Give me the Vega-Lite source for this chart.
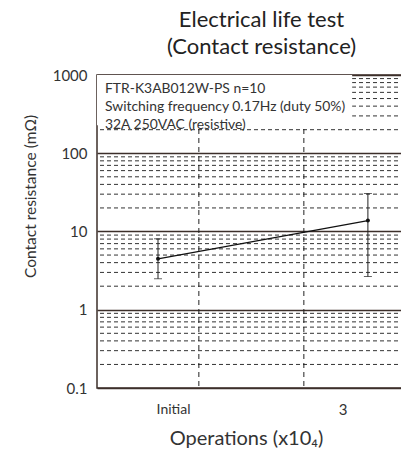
{
  "$schema": "https://vega.github.io/schema/vega-lite/v6.json",
  "width": 315,
  "height": 313,
  "autosize": {"type": "none"},
  "padding": {"left": 97, "top": 75, "right": 0, "bottom": 66},
  "config": {
    "font": "Lato",
    "view": {"stroke": "#3c2f2a", "strokeWidth": 1.5},
    "background": "white"
  },
  "title": {
    "text": ["Electrical life test", "(Contact resistance)"],
    "fontSize": 22,
    "fontWeight": "normal",
    "font": "Lato",
    "color": "#222222",
    "lineHeight": 27,
    "anchor": "middle",
    "dx": 7,
    "offset": 9
  },
  "datasets": {
    "points": [
      {"op": "Initial", "x": 0.611, "mean": 4.48, "low": 2.49, "high": 8.07},
      {"op": "3", "x": 2.61, "mean": 13.8, "low": 2.66, "high": 30.6}
    ],
    "minor": [
      {"v": 0.2}, {"v": 0.3}, {"v": 0.4}, {"v": 0.5}, {"v": 0.6}, {"v": 0.7}, {"v": 0.8}, {"v": 0.9},
      {"v": 2}, {"v": 3}, {"v": 4}, {"v": 5}, {"v": 6}, {"v": 7}, {"v": 8}, {"v": 9},
      {"v": 20}, {"v": 30}, {"v": 40}, {"v": 50}, {"v": 60}, {"v": 70}, {"v": 80}, {"v": 90},
      {"v": 200}, {"v": 300}, {"v": 400}, {"v": 500}, {"v": 600}, {"v": 700}, {"v": 800}, {"v": 900}
    ],
    "vlines": [{"x": 1}, {"x": 2}]
  },
  "layer": [
    {
      "data": {"name": "minor"},
      "mark": {"type": "rule", "strokeDash": [4, 3], "color": "#333333", "strokeWidth": 1},
      "encoding": {
        "y": {
          "field": "v",
          "type": "quantitative",
          "title": "Contact resistance (mΩ)",
          "scale": {"type": "log", "domain": [0.1, 1000], "nice": false},
          "axis": {
            "values": [0.1, 1, 10, 100, 1000],
            "format": "~g",
            "grid": true,
            "gridDash": [],
            "gridColor": "#3c2f2a",
            "gridWidth": 1.3,
            "gridOpacity": 1,
            "ticks": false,
            "domain": false,
            "labelPadding": 10,
            "labelFontSize": 15,
            "labelColor": "#333333",
            "titleFontSize": 15.5,
            "titleFontWeight": "normal",
            "titleColor": "#333333",
            "titleX": -67,
            "titleY": 121,
            "titleAlign": "center",
            "titleBaseline": "middle",
            "titleAngle": 270
          }
        }
      }
    },
    {
      "data": {"name": "vlines"},
      "mark": {"type": "rule", "strokeDash": [5, 4], "color": "#222222", "strokeWidth": 1},
      "encoding": {
        "x": {
          "field": "x",
          "type": "quantitative",
          "title": "Operations (x10₄)",
          "scale": {"domain": [0.03, 3.03], "nice": false, "zero": false},
          "axis": {
            "values": [0.754, 2.37],
            "labelExpr": "datum.value < 1 ? 'Initial' : '3'",
            "labelFontSize": {"condition": {"test": "datum.value < 1", "value": 14}, "value": 15},
            "labelColor": "#333333",
            "labelPadding": 14,
            "labelBaseline": "top",
            "ticks": false,
            "grid": false,
            "domain": false,
            "titleFontSize": 20,
            "titleFontWeight": "normal",
            "titleColor": "#333333",
            "titleX": 149,
            "titleY": 50,
            "titleAlign": "center",
            "titleBaseline": "middle"
          }
        }
      }
    },
    {
      "data": {"values": [{}]},
      "mark": {"type": "rect", "fill": "white", "stroke": null},
      "encoding": {
        "x": {"datum": 0.03, "type": "quantitative", "title": "Operations (x10₄)"},
        "x2": {"datum": 2.46},
        "y": {"datum": 1000, "type": "quantitative", "title": "Contact resistance (mΩ)"},
        "y2": {"datum": 228}
      }
    },
    {
      "data": {"values": [{}]},
      "mark": {
        "type": "text",
        "text": ["FTR-K3AB012W-PS  n=10", "Switching frequency 0.17Hz (duty 50%)", "32A 250VAC (resistive)"],
        "align": "left",
        "baseline": "top",
        "fontSize": 13.9,
        "lineHeight": 18,
        "dy": 7,
        "color": "#333333"
      },
      "encoding": {
        "x": {"datum": 0.106, "type": "quantitative", "title": "Operations (x10₄)"},
        "y": {"datum": 1000, "type": "quantitative", "title": "Contact resistance (mΩ)"}
      }
    },
    {
      "data": {"name": "points"},
      "mark": {"type": "errorbar", "ticks": {"size": 8, "color": "#222222"}, "rule": {"color": "#222222", "strokeWidth": 1}},
      "encoding": {
        "x": {"field": "x", "type": "quantitative", "title": "Operations (x10₄)"},
        "y": {"field": "low", "type": "quantitative", "title": "Contact resistance (mΩ)"},
        "y2": {"field": "high"}
      }
    },
    {
      "data": {"name": "points"},
      "mark": {"type": "line", "color": "#111111", "strokeWidth": 1.2},
      "encoding": {
        "x": {"field": "x", "type": "quantitative", "title": "Operations (x10₄)"},
        "y": {"field": "mean", "type": "quantitative", "title": "Contact resistance (mΩ)"}
      }
    },
    {
      "data": {"name": "points"},
      "mark": {"type": "point", "filled": true, "color": "#111111", "size": 16, "opacity": 1},
      "encoding": {
        "x": {"field": "x", "type": "quantitative", "title": "Operations (x10₄)"},
        "y": {"field": "mean", "type": "quantitative", "title": "Contact resistance (mΩ)"}
      }
    }
  ]
}
